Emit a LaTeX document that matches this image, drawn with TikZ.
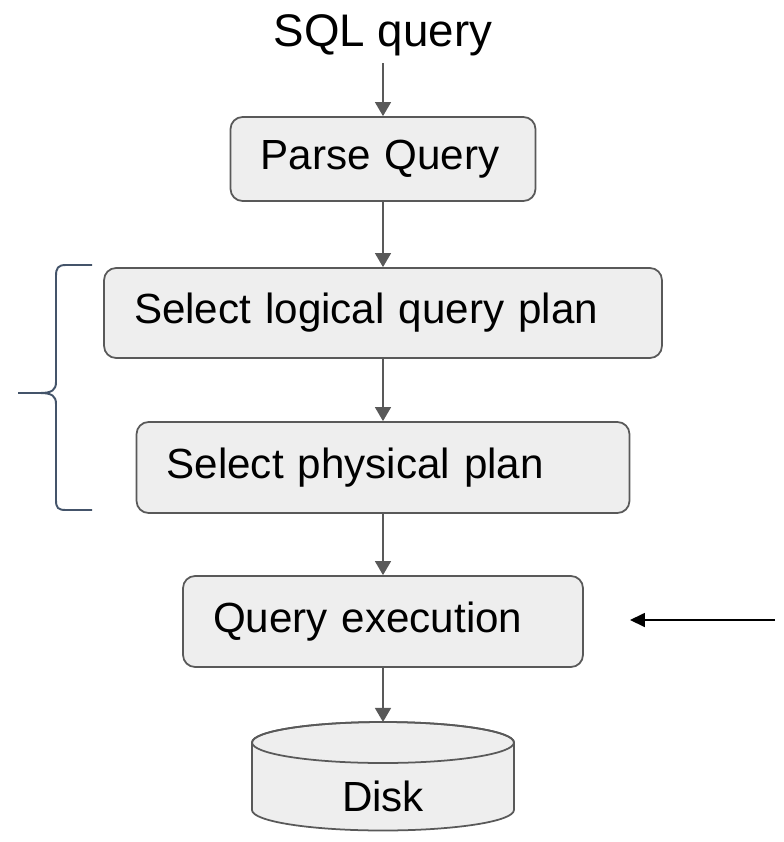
\documentclass[tikz,border=0pt]{standalone}
\usepackage{fontspec}
\setmainfont{Liberation Sans}
\usetikzlibrary{arrows.meta}
\definecolor{boxgray}{HTML}{EEEEEE}
\definecolor{linegray}{HTML}{595959}
\definecolor{bracegray}{HTML}{44546A}
\begin{document}
\begin{tikzpicture}[x=0.02cm, y=-0.02cm,
    stage/.style={draw=linegray, line width=1pt, fill=boxgray, rounded corners=0.24cm,
      font=\fontsize{24}{28}\selectfont, align=left, inner xsep=0.6cm, inner ysep=0pt},
    flow/.style={draw=linegray, line width=1.2pt, -{Triangle[width=9pt, length=8pt]}},
    callout/.style={draw=black, line width=0.8pt, -{Triangle[width=8pt, length=8.5pt]}},
    bracket/.style={draw=bracegray, line width=1.1pt}]

  \useasboundingbox (0,0) rectangle (784,842);

  %% ===== PIPELINE STAGES =====
  \node[font=\fontsize{26}{30}\selectfont, inner sep=4pt] (sql) at (383,35) {SQL query};

  \node[stage, text width=4.9cm, minimum height=1.68cm] (parse) at (383,159) {Parse Query};
  \node[stage, text width=9.96cm, minimum height=1.8cm] (logical) at (383,313) {Select logical query plan};
  \node[stage, text width=8.66cm, minimum height=1.82cm] (physical) at (383,467.5) {Select physical plan};
  \node[stage, text width=6.8cm, minimum height=1.82cm] (exec) at (383,621.5) {Query execution};

  %% ===== DISK (cylinder) =====
  \coordinate (disktop) at (383,722);
  \filldraw[draw=linegray, line width=1pt, fill=boxgray]
    (252,742.5) -- (252,810) arc[start angle=180, end angle=360, x radius=2.62cm, y radius=0.41cm]
    -- (514,742.5) arc[start angle=0, end angle=180, x radius=2.62cm, y radius=0.41cm] -- cycle;
  \draw[draw=linegray, line width=1pt] (383,742.5) ellipse[x radius=2.62cm, y radius=0.41cm];
  \node[font=\fontsize{24}{28}\selectfont] (disk) at (383,796) {Disk};

  % Arrows between stages
  \draw[flow] (sql) -- (parse);
  \draw[flow] (parse) -- (logical);
  \draw[flow] (logical) -- (physical);
  \draw[flow] (physical) -- (exec);
  \draw[flow] (exec) -- (disktop);

  % Arrow pointing at execution
  \coordinate (pointfrom) at (775,620);
  \coordinate (pointto) at (630,620);
  \draw[callout] (pointfrom) -- (pointto);

  %% ===== BRACE (optimizer) =====
  \draw[bracket] (92,265) -- (66,265) .. controls (58,265) and (56,268) .. (56,276)
    -- (56,382) .. controls (56,390) and (52,393) .. (40,393) -- (18,393);
  \draw[bracket] (18,393) -- (40,393) .. controls (52,393) and (56,396) .. (56,404)
    -- (56,500) .. controls (56,508) and (58,510) .. (66,510) -- (92,510);

\end{tikzpicture}
\end{document}
